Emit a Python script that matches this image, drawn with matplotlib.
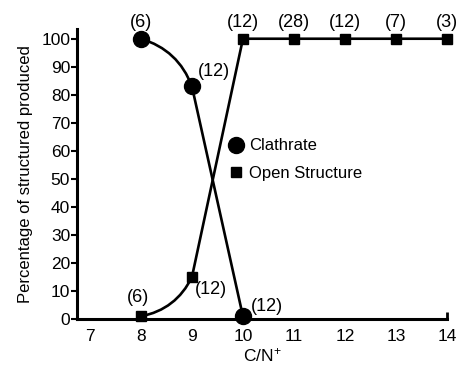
import matplotlib
matplotlib.use('Agg')
import matplotlib.pyplot as plt
from matplotlib.patches import FancyArrowPatch
from matplotlib.lines import Line2D

plt.rcParams['font.family'] = ['Liberation Sans', 'DejaVu Sans']
plt.rcParams['mathtext.default'] = 'regular'

# C/N+ ratio vs. percentage of each structure, with sample counts
clath_x = [8, 9, 10]
clath_y = [100, 83, 1]
clath_n = ['(6)', '(12)', '(12)']

open_x = [8, 9, 10, 11, 12, 13, 14]
open_y = [1, 15, 100, 100, 100, 100, 100]
open_n = ['(6)', '(12)', '(12)', '(28)', '(12)', '(7)', '(3)']


fig = plt.figure(figsize=(4.59, 3.66), dpi=100)
ax = fig.add_axes([0.168, 0.128, 0.806, 0.793])

lw = 1.9

# curved first segment, straight after that
def bend(p, q, rad):
	a = FancyArrowPatch(p, q, connectionstyle=f'arc3,rad={rad}', arrowstyle='-',
		lw=lw, color='black', shrinkA=0, shrinkB=0, zorder=2)
	ax.add_patch(a)

bend((clath_x[0], clath_y[0]), (clath_x[1], clath_y[1]), -0.25)
ax.plot(clath_x[1:], clath_y[1:], color='black', lw=lw, zorder=2)
ax.plot(clath_x, clath_y, 'o', color='black', ms=11.5, clip_on=False, zorder=3)

bend((open_x[0], open_y[0]), (open_x[1], open_y[1]), 0.25)
ax.plot(open_x[1:], open_y[1:], color='black', lw=lw, zorder=2)
ax.plot(open_x, open_y, 's', color='black', ms=6.5, clip_on=False, zorder=3)

# sample counts
kw = dict(textcoords='offset points', ha='center', va='center', fontsize=13)
ax.annotate(clath_n[0], (clath_x[0], clath_y[0]), xytext=(0, 12), **kw)
ax.annotate(clath_n[1], (clath_x[1], clath_y[1]), xytext=(16, 11), **kw)
ax.annotate(clath_n[2], (clath_x[2], clath_y[2]), xytext=(17, 7), **kw)
ax.annotate(open_n[0], (open_x[0], open_y[0]), xytext=(-2, 13.5), **kw)
ax.annotate(open_n[1], (open_x[1], open_y[1]), xytext=(14, -9), **kw)
for x, y, n in zip(open_x[2:], open_y[2:], open_n[2:]):
	ax.annotate(n, (x, y), xytext=(0, 12), **kw)

handles = [Line2D([], [], ls='none', marker='o', ms=11.5, color='black'),
	Line2D([], [], ls='none', marker='s', ms=6.5, color='black')]
ax.legend(handles, ['Clathrate', 'Open Structure'], frameon=False, fontsize=12,
	loc='upper left', bbox_to_anchor=(0.495, 0.622), bbox_transform=fig.transFigure,
	handlelength=1.0, handletextpad=0.3, labelspacing=0.75, borderpad=0, borderaxespad=0)

ax.set_xlim(6.75, 14)
ax.set_ylim(0, 103.5)
ax.set_xticks(range(7, 15))
ax.set_yticks(range(0, 101, 10))
ax.set_xticks([14], minor=True)
ax.xaxis.remove_overlapping_locs = False
ax.tick_params(axis='x', which='major', length=0, labelsize=12.5, pad=7)
ax.tick_params(axis='x', which='minor', direction='in', length=5, width=2)
ax.tick_params(axis='y', length=4, width=1.5, labelsize=12.5, pad=1)

for s in ['top', 'right']:
	ax.spines[s].set_visible(False)
for s in ['left', 'bottom']:
	ax.spines[s].set_linewidth(2.2)

ax.set_xlabel('C/N$^{+}$', fontsize=12.5, va='center')
ax.xaxis.set_label_coords(0.5, -0.125)
ax.set_ylabel('Percentage of structured produced', fontsize=12, labelpad=6)

fig.savefig('out.png', dpi=100)
